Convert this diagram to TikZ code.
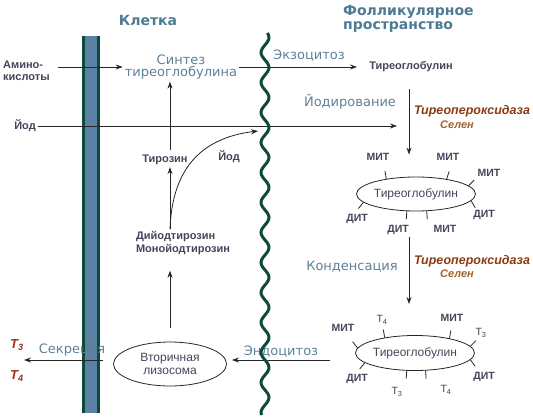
\documentclass[tikz,border=0pt]{standalone}
\usepackage{fontspec}
\setmainfont{Liberation Sans}
\newfontfamily\vfont{DejaVu Sans}
\usetikzlibrary{arrows.meta,shapes.geometric}
\definecolor{titleblue}{HTML}{4F7A96}
\definecolor{procblue}{HTML}{5E8198}
\definecolor{txtgray}{HTML}{44445A}
\definecolor{enzbrown}{HTML}{8A3A12}
\definecolor{selbrown}{HTML}{A0622A}
\definecolor{hormred}{HTML}{A03018}
\definecolor{memgreen}{HTML}{0E4A3A}
\definecolor{memblue}{HTML}{5A82A4}
\definecolor{linegray}{HTML}{262626}
\begin{document}
\begin{tikzpicture}[x=1pt,y=-1pt,
  every node/.style={inner sep=2pt, text=txtgray},
  title/.style={font=\vfont\bfseries\fontsize{14}{14}\selectfont, text=titleblue},
  proc/.style={font=\vfont\fontsize{13}{12.5}\selectfont, text=procblue},
  subst/.style={font=\bfseries\fontsize{11}{12.5}\selectfont},
  tg/.style={draw=linegray, line width=0.8pt, ellipse, inner sep=0pt, align=center, font=\fontsize{12}{13}\selectfont},
  site/.style={font=\bfseries\fontsize{10.5}{12}\selectfont, inner sep=0pt},
  enz/.style={font=\bfseries\itshape\fontsize{12.5}{13}\selectfont, text=enzbrown},
  cofac/.style={font=\bfseries\itshape\fontsize{11}{12}\selectfont, text=selbrown},
  horm/.style={font=\bfseries\itshape\fontsize{13}{13}\selectfont, text=hormred},
  arr/.style={draw=linegray, line width=0.8pt, -{Stealth[length=7pt,width=5pt]}},
  tick/.style={draw=linegray, line width=0.8pt}]
\useasboundingbox (0,0) rectangle (533,420);

% cell membrane
\fill[memgreen] (82,36) rectangle (100,413);
\fill[memblue] (85,36) rectangle (97,413);

\node[title] (cell) at (148,20) {Клетка};
\node[title, anchor=west, align=left] (space) at (341,19) {Фолликулярное\\пространство};

% inside the cell
\node[subst, anchor=west, align=left] (amino) at (1,71) {Амино-\\кислоты};
\node[proc, align=center] (synth) at (181,67) {Синтез\\тиреоглобулина};
\node[subst] (iod) at (25,126) {Йод};
\node[subst] (tyr) at (165,160) {Тирозин};
\node[subst] (iod2) at (229,157) {Йод};
\node[subst, align=left] (diiod) at (183,243) {Дийодтирозин\\Монойодтирозин};
\node[tg, minimum width=113pt, minimum height=44pt] (lyso) at (170,364) {Вторичная\\лизосома};
\node[proc] (secr) at (72,350) {Секреция};
\node[horm] (t3) at (17,345) {T\textsubscript{3}};
\node[horm] (t4) at (17,376) {T\textsubscript{4}};

% follicle side
\node[proc] (exo) at (309,56) {Экзоцитоз};
\node[subst] (tg0) at (411,67) {Тиреоглобулин};
\node[proc] (iodation) at (350,102) {Йодирование};
\node[enz] (tpo1) at (472,111) {Тиреопероксидаза};
\node[cofac] (se1) at (457,125) {Селен};
\node[tg, minimum width=118pt, minimum height=34pt] (tg1) at (416,194) {Тиреоглобулин};
\node[proc] (cond) at (352,267) {Конденсация};
\node[enz] (tpo2) at (472,261) {Тиреопероксидаза};
\node[cofac] (se2) at (457,274) {Селен};
\node[tg, minimum width=114pt, minimum height=35pt] (tg2) at (415,353) {Тиреоглобулин};
\node[proc] (endo) at (281,352) {Эндоцитоз};

\foreach \a/\d/\lx/\ly/\s [count=\i] in {153/100/378/157/МИТ, 26/72/448/157/МИТ, 9/45/489/173/МИТ, 189/231/357/219/ДИТ, 242/266/398/230/ДИТ, 302/274/445/229/МИТ, 353/300/484/215/ДИТ} {
  \draw[tick] (tg1.\a) -- ++(\d:8pt);
  \node[site] (a\i) at (\lx,\ly) {\s};
}
\foreach \a/\d/\lx/\ly/\s [count=\i] in {175/128/343/328/МИТ, 153/100/382/320/{\mdseries T\textsubscript{4}}, 23/80/452/318/МИТ, 7/45/481/333/{\mdseries T\textsubscript{3}}, 191/231/357/379/ДИТ, 245/266/397/392/{\mdseries T\textsubscript{3}}, 301/274/446/390/{\mdseries T\textsubscript{4}}, 353/306/484/377/ДИТ} {
  \draw[tick] (tg2.\a) -- ++(\d:8pt);
  \node[site] (b\i) at (\lx,\ly) {\s};
}

% connectors
\coordinate (iodend) at (397,126);
\coordinate (iodback) at (258,131);
\coordinate (out) at (24,360);
\draw[arr, shorten <=6pt] (amino.east |- synth.west) -- (synth.west);
\draw[arr, shorten >=10pt] (synth.east) -- (tg0.west);
\draw[arr] (iod.east) -- (iodend);
\draw[arr] ([xshift=-2pt,yshift=-15pt]tg0.south) -- ([xshift=-7pt,yshift=22pt]tg1.north);
\draw[arr] ([xshift=-7pt,yshift=-26pt]tg1.south) -- ([xshift=-6pt,yshift=31pt]tg2.north);
\draw[arr] ([xshift=-25pt,yshift=-7pt]tg2.west) -- ([xshift=5pt,yshift=4pt]lyso.east);
\draw[arr, shorten <=10pt] ([yshift=4pt]lyso.west) -- (out);
\draw[arr, shorten <=14pt, shorten >=14pt] (lyso.north) -- (lyso.north |- diiod.south);
\draw[arr] (diiod.north -| lyso.north) -- (tyr.south -| lyso.north);
\draw[arr, shorten <=3pt] (tyr.north -| lyso.north) -- (synth.south -| lyso.north);
\draw[arr] (diiod.north -| lyso.north) .. controls (172,170) and (200,138) .. (iodback);

% wall of the follicle
\draw[memgreen, line width=3pt] plot[domain=33:415, samples=200, smooth] ({265+4*sin(12*\x)}, \x);
\end{tikzpicture}
\end{document}
